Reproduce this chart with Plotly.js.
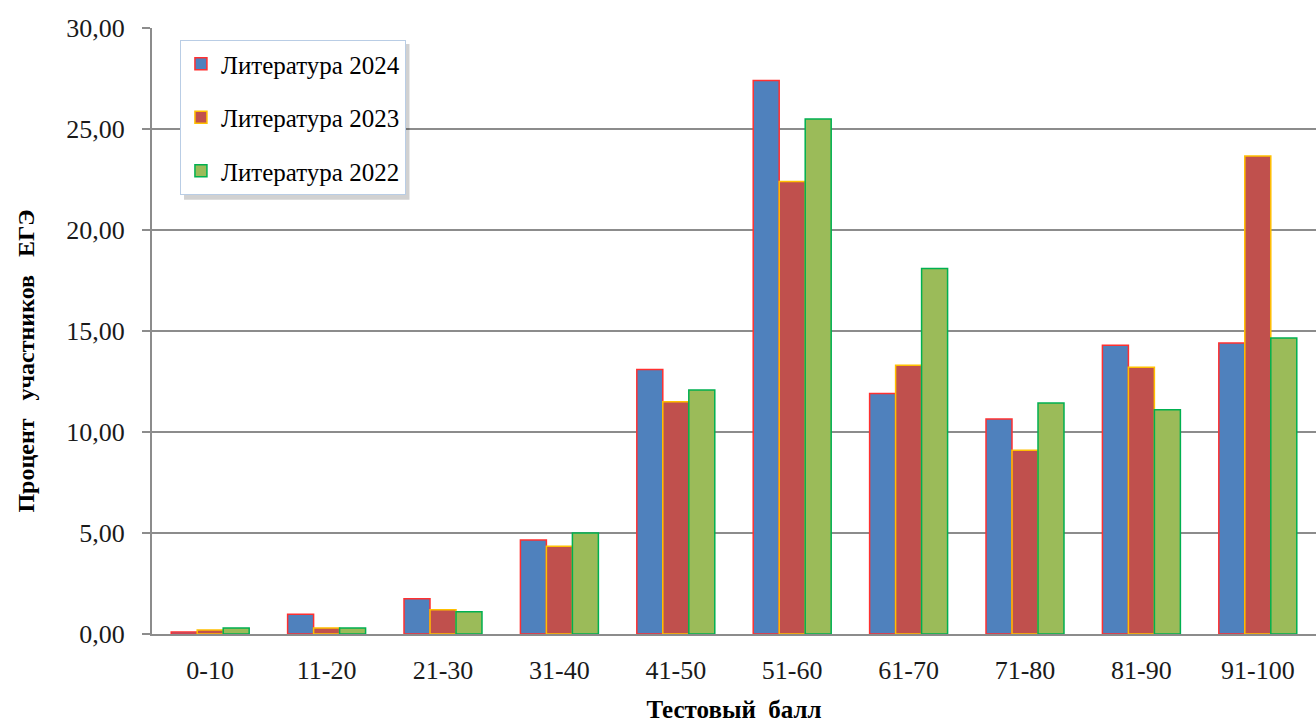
<!DOCTYPE html>
<html>
<head>
<meta charset="utf-8">
<script src="https://cdn.plot.ly/plotly-3.0.1.min.js"></script>
<style>html,body{margin:0;padding:0;background:#fff;}#chart{width:1316px;height:725px;}</style>
</head>
<body>
<div id="chart"></div>
<script>
const categories = ["0-10","11-20","21-30","31-40","41-50","51-60","61-70","71-80","81-90","91-100"];
const lit2024 = [0.10, 0.98, 1.75, 4.65, 13.10, 27.40, 11.90, 10.64, 14.30, 14.40];
const lit2023 = [0.20, 0.30, 1.20, 4.35, 11.50, 22.40, 13.30, 9.10, 13.20, 23.66];
const lit2022 = [0.30, 0.30, 1.10, 5.00, 12.08, 25.50, 18.10, 11.43, 11.10, 14.65];
const seriesNames = ["Литература 2024","Литература 2023","Литература 2022"];
const yTicks = [0,5,10,15,20,25,30];

const fontFam = "Liberation Serif, Times New Roman, serif";
const traces = [
  {type:'bar', name:seriesNames[0], x:categories, y:lit2024, legendgroup:'a',
   marker:{color:'#4f81bd', line:{color:'#ff3030', width:1.5}}},
  {type:'bar', name:seriesNames[1], x:categories, y:lit2023, legendgroup:'b',
   marker:{color:'#c0504d', line:{color:'#ffc000', width:1.5}}},
  {type:'bar', name:seriesNames[2], x:categories, y:lit2022, legendgroup:'c',
   marker:{color:'#9bbb59', line:{color:'#00b050', width:1.5}}}
];
const layout = {
  width:1316, height:725,
  margin:{l:152, r:0, t:28, b:91, pad:0},
  paper_bgcolor:'#fff', plot_bgcolor:'#fff',
  barmode:'group', bargap:0.33, bargroupgap:0,
  font:{family:fontFam, size:26, color:'#1a1a1a'},
  showlegend:true,
  legend:{x:0.024, y:0.98, xanchor:'left', yanchor:'top', bgcolor:'#fff',
    bordercolor:'#b9cde5', borderwidth:1, font:{family:fontFam, size:25, color:'#000'},
    tracegroupgap:18, itemwidth:30},
  xaxis:{type:'category', showline:true, linecolor:'#8c8c8c', linewidth:2,
    ticks:'', ticklabelstandoff:12, tickfont:{family:fontFam, size:26, color:'#1a1a1a'},
    title:{text:'Тестовый  балл', font:{family:fontFam, size:25, color:'#000', weight:'bold'}, standoff:16}},
  yaxis:{range:[0,30], tickvals:yTicks, tickformat:'.2f', showline:true, linecolor:'#8c8c8c', linewidth:2,
    ticks:'outside', ticklen:8, tickcolor:'#8c8c8c', tickwidth:1.5, ticklabelstandoff:12,
    gridcolor:'#8c8c8c', gridwidth:1.5, zeroline:false,
    tickfont:{family:fontFam, size:26, color:'#1a1a1a'},
    title:{text:'', font:{family:fontFam, size:24, color:'#000', weight:'bold'}}},
  separators:',.',
  annotations:[
    {text:'Процент   участников   ЕГЭ', xref:'paper', yref:'paper', x:-0.108, y:0.45,
     xanchor:'center', yanchor:'middle', textangle:-90, showarrow:false,
     font:{family:fontFam, size:24, color:'#000', weight:'bold'}}
  ],
  shapes:[
    {type:'rect', xref:'paper', yref:'paper', x0:0.0275, x1:0.2212, y0:0.7165, y1:0.9736,
     fillcolor:'rgba(0,0,0,0.18)', line:{width:0}, layer:'above'}
  ]
};
Plotly.newPlot('chart', traces, layout, {displayModeBar:false});
</script>
</body>
</html>
